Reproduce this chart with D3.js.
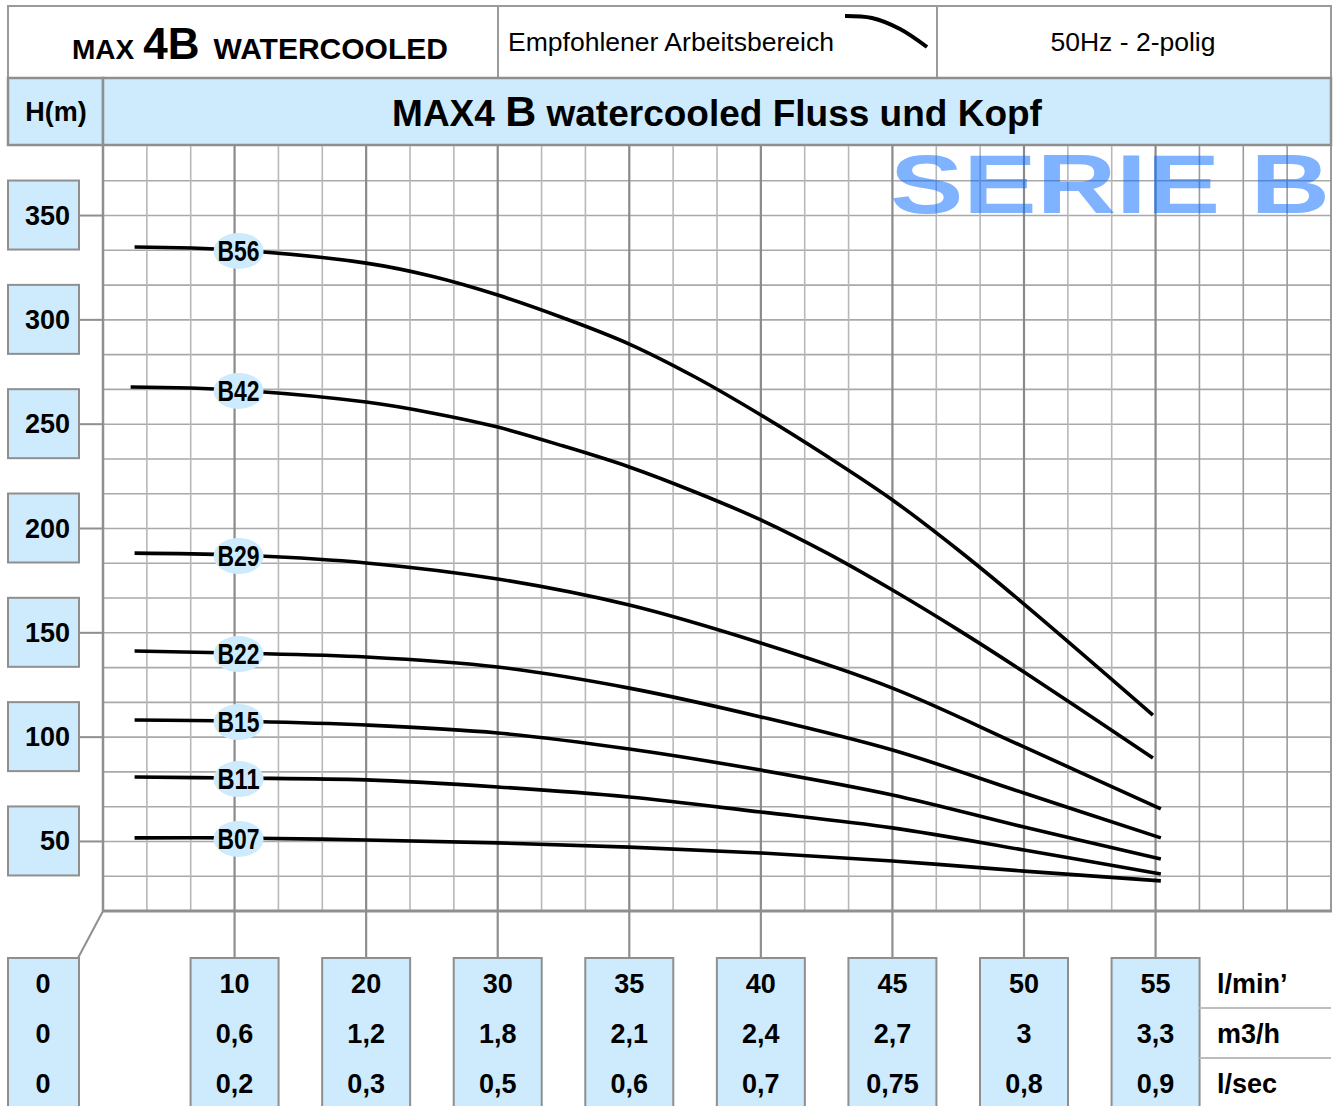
<!DOCTYPE html>
<html><head><meta charset="utf-8">
<script src="https://cdn.jsdelivr.net/npm/d3@7"></script>
<style>
body{margin:0;background:#fff}
svg{display:block}
text{font-family:"Liberation Sans",Arial,Helvetica,sans-serif;fill:#000}
</style>
</head><body>
<svg id="c" width="1335" height="1106"></svg>
<script>
// ---------- data ----------
const flowTicks   = [10, 20, 30, 35, 40, 45, 50, 55];            // l/min'
const m3hLabels   = ["0,6","1,2","1,8","2,1","2,4","2,7","3","3,3"];
const lsecLabels  = ["0,2","0,3","0,5","0,6","0,7","0,75","0,8","0,9"];
const zeroLabels  = ["0","0","0"];
const unitLabels  = ["l/min’","m3/h","l/sec"];
const headTicks   = [50, 100, 150, 200, 250, 300, 350];           // H(m)
const seriesNames = ["B56","B42","B29","B22","B15","B11","B07"];

const flowB56 = [2.4, 10, 20, 25, 30, 32.5, 35, 37.5, 40, 42.5, 45, 47.5, 50, 54.9];
const headB56 = [334.9, 333.5, 327.2, 320.9, 311.9, 300.9, 288.4, 272.6, 254.4, 234.7, 213.7, 189.7, 163.8, 110.6];
const flowB42 = [2.1, 10, 20, 25, 30, 32.5, 35, 37.5, 40, 42.5, 45, 47.5, 50, 54.9];
const headB42 = [267.8, 266.4, 260.6, 255.4, 248.6, 239.5, 229.5, 217.5, 204.1, 188.3, 170.5, 151.4, 131.2, 90.0];
const flowSmall = [2.4, 10, 20, 30, 35, 40, 45, 50, 55.2];
const headB29 = [188.2, 187.3, 183.5, 175.8, 163.3, 145.1, 123.5, 95.3, 65.6];
const headB22 = [141.3, 140.3, 138.4, 133.6, 123.5, 109.7, 93.8, 73.2, 51.7];
const headB15 = [108.2, 107.7, 105.8, 102.0, 94.3, 84.2, 72.3, 56.9, 41.6];
const headB11 = [80.9, 80.4, 79.5, 76.1, 71.3, 64.1, 56.5, 45.9, 34.4];
const headB07 = [51.7, 51.7, 50.7, 49.3, 47.3, 44.5, 40.6, 35.8, 31.1];

const seriesFlow = [flowB56, flowB42, flowSmall, flowSmall, flowSmall, flowSmall, flowSmall];
const seriesHead = [headB56, headB42, headB29, headB22, headB15, headB11, headB07];

// ---------- layout ----------
const L = 103, R = 1331, T = 146, B = 911;
const BLUE = "#cdebfd", GRID = "#a9a9a9", MAJOR = "#8a8a8a", MINOR = "#b8b8b8", FRAME = "#8f8f8f";
const svg = d3.select("#c");

// grid-unit scale (28 columns), flow scale non-uniform (equal spacing per label)
const gx = d3.scaleLinear().domain([0, 28]).range([L, R]);
const x = d3.scaleLinear()
  .domain([0].concat(flowTicks))
  .range([0, 3, 6, 9, 12, 15, 18, 21, 24].map(gx));
const y = d3.scaleLinear().domain([50/3, 1150/3]).range([B, T]);

// ---------- header ----------
svg.append("rect").attr("x", 8).attr("y", 6).attr("width", R - 8).attr("height", 72)
  .attr("fill", "#fff").attr("stroke", "#9a9a9a").attr("stroke-width", 2);
[498, 937].forEach(v => svg.append("line").attr("x1", v).attr("x2", v).attr("y1", 6).attr("y2", 78)
  .attr("stroke", "#9a9a9a").attr("stroke-width", 2));

const t1 = svg.append("text").attr("x", 72).attr("y", 59).attr("font-weight", "bold");
t1.append("tspan").attr("font-size", 28).text("MAX");
t1.append("tspan").attr("font-size", 44).attr("dx", 9).text("4B");
t1.append("tspan").attr("font-size", 30).attr("dx", 14).text("WATERCOOLED");

svg.append("text").attr("x", 508).attr("y", 51).attr("font-size", 25)
  .attr("textLength", 326).attr("lengthAdjust", "spacingAndGlyphs").text("Empfohlener Arbeitsbereich");
svg.append("path")
  .attr("d", d3.line().curve(d3.curveCatmullRom)([[845, 16], [872, 18], [900, 29], [927, 47]]))
  .attr("fill", "none").attr("stroke", "#000").attr("stroke-width", 4);
svg.append("text").attr("x", 1133).attr("y", 51).attr("font-size", 25).attr("text-anchor", "middle")
  .attr("textLength", 165).attr("lengthAdjust", "spacingAndGlyphs").text("50Hz - 2-polig");

// title bar
svg.append("rect").attr("x", 8).attr("y", 78).attr("width", L - 8).attr("height", 67)
  .attr("fill", BLUE).attr("stroke", FRAME).attr("stroke-width", 2.5);
svg.append("rect").attr("x", L).attr("y", 78).attr("width", R - L).attr("height", 67)
  .attr("fill", BLUE).attr("stroke", FRAME).attr("stroke-width", 2.5);
svg.append("text").attr("x", 56).attr("y", 121).attr("font-size", 27).attr("font-weight", "bold")
  .attr("text-anchor", "middle").text("H(m)");
const t2 = svg.append("text").attr("x", (L + R) / 2).attr("y", 126).attr("font-weight", "bold")
  .attr("text-anchor", "middle");
t2.append("tspan").attr("font-size", 37).text("MAX4 ");
t2.append("tspan").attr("font-size", 43).text("B");
t2.append("tspan").attr("font-size", 37).text(" watercooled Fluss und Kopf");

// ---------- grid ----------
const g = svg.append("g");
const hLines = d3.range(1, 23).map(k => k * 50 / 3);
g.selectAll(".h").data(hLines).join("line")
  .attr("x1", L).attr("x2", R).attr("y1", d => y(d)).attr("y2", d => y(d))
  .attr("stroke", GRID).attr("stroke-width", 1.6);
const vCols = d3.range(1, 28);
g.selectAll(".v").data(vCols).join("line")
  .attr("x1", d => gx(d)).attr("x2", d => gx(d)).attr("y1", T).attr("y2", B)
  .attr("stroke", d => (d % 3 === 0 && d <= 24) ? MAJOR : (d > 24 ? "#9c9c9c" : MINOR))
  .attr("stroke-width", d => (d % 3 === 0 && d <= 24) ? 2.2 : 1.6);

// watermark
svg.append("text").attr("x", 890).attr("y", 213).attr("font-size", 84).attr("font-weight", "bold")
  .attr("textLength", 440).attr("lengthAdjust", "spacingAndGlyphs")
  .style("fill", "#0066ff").attr("fill-opacity", 0.5).text("SERIE B");

// plot border
svg.append("line").attr("x1", L).attr("x2", L).attr("y1", T).attr("y2", B).attr("stroke", FRAME).attr("stroke-width", 2.5);
svg.append("line").attr("x1", R).attr("x2", R).attr("y1", T).attr("y2", B).attr("stroke", "#9a9a9a").attr("stroke-width", 2);
svg.append("line").attr("x1", L - 1).attr("x2", R + 1).attr("y1", B).attr("y2", B).attr("stroke", FRAME).attr("stroke-width", 3);

// ---------- y axis boxes ----------
headTicks.forEach(t => {
  const yy = y(t);
  svg.append("line").attr("x1", 79).attr("x2", L).attr("y1", yy).attr("y2", yy).attr("stroke", FRAME).attr("stroke-width", 2);
  svg.append("rect").attr("x", 8).attr("y", yy - 35).attr("width", 71).attr("height", 69)
    .attr("fill", BLUE).attr("stroke", FRAME).attr("stroke-width", 2);
  svg.append("text").attr("x", 70).attr("y", yy + 9).attr("font-size", 27).attr("font-weight", "bold")
    .attr("text-anchor", "end").text(t);
});

// ---------- x axis boxes ----------
const rowY = [993, 1043, 1093];
const boxTop = 958;
svg.append("line").attr("x1", L).attr("y1", B).attr("x2", 78).attr("y2", boxTop).attr("stroke", FRAME).attr("stroke-width", 2);
svg.append("rect").attr("x", 8).attr("y", boxTop).attr("width", 71).attr("height", 170)
  .attr("fill", BLUE).attr("stroke", FRAME).attr("stroke-width", 2);
zeroLabels.forEach((s, i) => svg.append("text").attr("x", 43).attr("y", rowY[i]).attr("font-size", 27)
  .attr("font-weight", "bold").attr("text-anchor", "middle").text(s));

flowTicks.forEach((f, i) => {
  const xx = x(f);
  svg.append("line").attr("x1", xx).attr("x2", xx).attr("y1", B).attr("y2", boxTop).attr("stroke", FRAME).attr("stroke-width", 2.2);
  svg.append("rect").attr("x", xx - 44).attr("y", boxTop).attr("width", 88).attr("height", 170)
    .attr("fill", BLUE).attr("stroke", FRAME).attr("stroke-width", 2);
  [String(f), m3hLabels[i], lsecLabels[i]].forEach((s, r) =>
    svg.append("text").attr("x", xx).attr("y", rowY[r]).attr("font-size", 27).attr("font-weight", "bold")
      .attr("text-anchor", "middle").text(s));
});
[1008, 1058].forEach(v => svg.append("line").attr("x1", gx(25)).attr("x2", R).attr("y1", v).attr("y2", v)
  .attr("stroke", "#bdbdbd").attr("stroke-width", 2));
unitLabels.forEach((s, r) => svg.append("text").attr("x", 1217).attr("y", rowY[r]).attr("font-size", 27)
  .attr("font-weight", "bold").text(s));

// ---------- curves ----------
const line = d3.line().x(d => x(d[0])).y(d => y(d[1])).curve(d3.curveCatmullRom.alpha(0.5));
seriesNames.forEach((name, i) => {
  const pts = seriesFlow[i].map((f, j) => [f, seriesHead[i][j]]);
  svg.append("path").attr("d", line(pts)).attr("fill", "none").attr("stroke", "#000")
    .attr("stroke-width", 3.6).attr("stroke-linecap", "butt");
});
// curve labels
seriesNames.forEach((name, i) => {
  const f10 = seriesFlow[i].indexOf(10);
  const cx = x(10) + 4, cy = y(seriesHead[i][f10]) + 1;
  svg.append("ellipse").attr("cx", cx).attr("cy", cy).attr("rx", 25).attr("ry", 18).attr("fill", BLUE);
  svg.append("text").attr("x", cx).attr("y", cy + 10).attr("font-size", 30).attr("font-weight", "bold")
    .attr("text-anchor", "middle").attr("textLength", 42).attr("lengthAdjust", "spacingAndGlyphs").text(name);
});
</script>
</body></html>
